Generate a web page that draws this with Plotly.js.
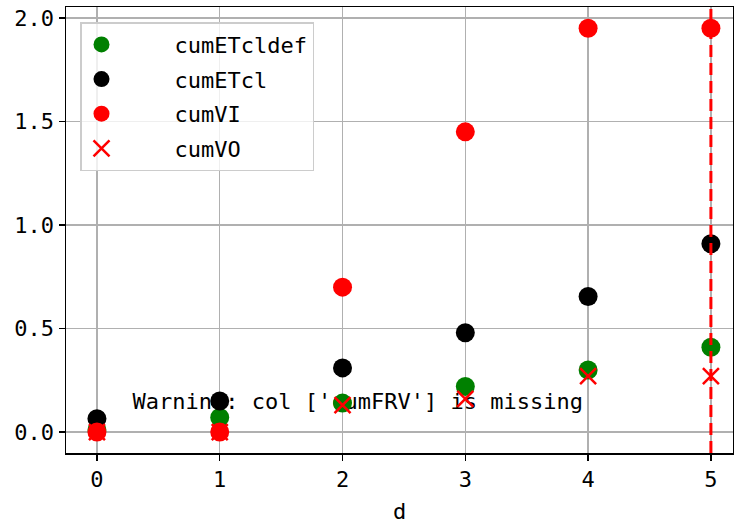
<!DOCTYPE html>
<html>
<head>
<meta charset="utf-8">
<script src="https://cdn.plot.ly/plotly-3.0.1.min.js"></script>
<style>html,body{margin:0;padding:0;background:#fff;}#chart{width:734px;height:526px;}</style>
</head>
<body>
<div id="chart"></div>
<script>
const d = [0, 1, 2, 3, 4, 5];
const cumETcldef = [0.01, 0.07, 0.14, 0.22, 0.30, 0.41];
const cumETcl = [0.065, 0.15, 0.31, 0.48, 0.655, 0.91];
const cumVI = [0.0, 0.0, 0.70, 1.45, 1.95, 1.95];
const cumVO = [0.0, 0.0, 0.13, 0.16, 0.27, 0.27];
const warningText = "Warning: col ['cumFRV'] is missing";
const vlineX = 5;

const FONT = "DejaVu Sans Mono, monospace";
const NB = "\u00a0\u00a0\u00a0\u00a0";

const traces = [
  {x: [0.29], y: [0.085], mode: 'text', text: [warningText], textposition: 'top right',
   textfont: {family: FONT, size: 22, color: '#000'}, showlegend: false, hoverinfo: 'skip', cliponaxis: false},
  {x: d, y: cumETcldef, mode: 'markers', name: NB + 'cumETcldef', legendgroup: 'a',
   marker: {color: 'green', size: 19, symbol: 'circle'}},
  {x: d, y: cumETcl, mode: 'markers', name: NB + 'cumETcl', legendgroup: 'b',
   marker: {color: 'black', size: 19, symbol: 'circle'}},
  {x: d, y: cumVI, mode: 'markers', name: NB + 'cumVI', legendgroup: 'c',
   marker: {color: 'red', size: 19, symbol: 'circle'}},
  {x: d, y: cumVO, mode: 'markers', name: NB + 'cumVO', legendgroup: 'd',
   marker: {color: 'red', size: 16, symbol: 'x-thin', line: {color: 'red', width: 2.5}}}
];

const layout = {
  width: 734, height: 526,
  margin: {l: 66, r: 1, t: 7, b: 73},
  paper_bgcolor: '#fff', plot_bgcolor: '#fff',
  font: {family: FONT, size: 22, color: '#000'},
  xaxis: {
    range: [-0.252, 5.18], tickvals: d, ticktext: d.map(String),
    showgrid: true, gridcolor: '#b0b0b0', gridwidth: 1.5,
    showline: true, linecolor: '#000', linewidth: 1.5, mirror: true,
    ticks: 'outside', ticklen: 6, tickwidth: 1.5, tickcolor: '#000',
    zeroline: false, tickfont: {family: FONT, size: 22},
    title: {text: 'd', font: {family: FONT, size: 22}, standoff: 12}
  },
  yaxis: {
    range: [-0.101, 2.053], tickvals: [0, 0.5, 1.0, 1.5, 2.0], ticktext: ['0.0', '0.5', '1.0', '1.5', '2.0'],
    showgrid: true, gridcolor: '#b0b0b0', gridwidth: 1.5,
    showline: true, linecolor: '#000', linewidth: 1.5, mirror: true,
    ticks: 'outside', ticklen: 6, tickwidth: 1.5, tickcolor: '#000',
    zeroline: false, tickfont: {family: FONT, size: 22}
  },
  legend: {
    x: 0.021, y: 0.966, xanchor: 'left', yanchor: 'top',
    bgcolor: 'rgba(255,255,255,0.8)', bordercolor: '#cccccc', borderwidth: 1.5,
    font: {family: FONT, size: 22}, traceorder: 'grouped', tracegroupgap: 3
  },
  shapes: [{
    type: 'line', xref: 'x', yref: 'paper', x0: vlineX, x1: vlineX, y0: 0, y1: 1,
    line: {color: 'red', width: 3, dash: '12px,6px'}, layer: 'above'
  }],
  showlegend: true
};

Plotly.newPlot('chart', traces, layout, {displayModeBar: false, staticPlot: true});
</script>
</body>
</html>
